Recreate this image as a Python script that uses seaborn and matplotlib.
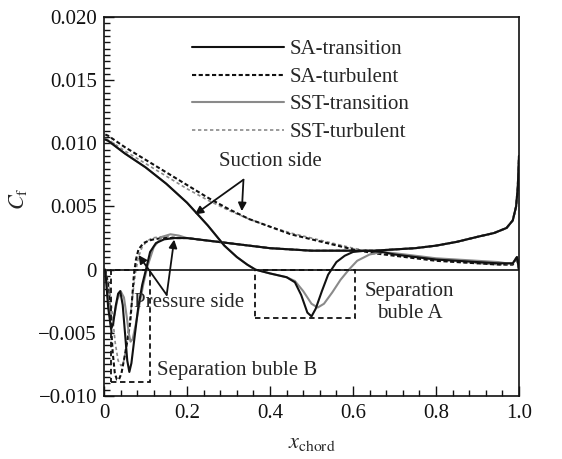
import numpy as np
import pandas as pd
import matplotlib
matplotlib.use("Agg")
import matplotlib.pyplot as plt
import seaborn as sns
from matplotlib.ticker import AutoMinorLocator, FuncFormatter
from matplotlib.patches import Rectangle

# ---------------- data ----------------
# Suction side
x_s_sa_tr = [0.003, 0.01, 0.05, 0.10, 0.15, 0.20, 0.25, 0.29, 0.32, 0.345, 0.365, 0.40, 0.44, 0.46,
             0.475, 0.49, 0.50, 0.51, 0.525, 0.54, 0.56, 0.58, 0.60, 0.63, 0.67, 0.70, 0.75, 0.80,
             0.85, 0.90, 0.95, 0.97, 0.985, 0.995, 1.0]
cf_s_sa_tr = [0.0103, 0.0102, 0.0092, 0.0081, 0.0068, 0.0053, 0.0035, 0.0019, 0.0010, 0.0004, 0.0,
              -0.0003, -0.0006, -0.0010, -0.0020, -0.0034, -0.0037, -0.0031, -0.0017, -0.0004, 0.0006,
              0.0011, 0.0014, 0.0015, 0.0014, 0.0012, 0.0010, 0.0008, 0.0007, 0.0006, 0.0005, 0.0005,
              0.0005, 0.0010, 0.0]

x_s_sst_tr = [0.003, 0.01, 0.05, 0.10, 0.15, 0.20, 0.25, 0.29, 0.32, 0.345, 0.365, 0.40, 0.44, 0.46,
              0.48, 0.50, 0.515, 0.53, 0.55, 0.57, 0.59, 0.61, 0.64, 0.67, 0.70, 0.75, 0.80, 0.85,
              0.90, 0.95, 0.97, 0.985, 0.995, 1.0]
cf_s_sst_tr = [0.0103, 0.0102, 0.0092, 0.0081, 0.0068, 0.0053, 0.0035, 0.0019, 0.0010, 0.0004, 0.0,
               -0.0003, -0.0006, -0.0009, -0.0017, -0.0027, -0.0030, -0.0027, -0.0018, -0.0008, 0.0,
               0.0007, 0.0012, 0.0014, 0.0013, 0.0011, 0.0009, 0.0008, 0.0007, 0.0006, 0.0005, 0.0005,
               0.0010, 0.0]

x_s_turb = [0.003, 0.01, 0.05, 0.10, 0.15, 0.20, 0.25, 0.30, 0.35, 0.40, 0.45, 0.50, 0.55, 0.60, 0.65,
            0.70, 0.75, 0.80, 0.85, 0.90, 0.95, 0.97, 0.985, 0.995, 1.0]
cf_s_sa_turb = [0.0107, 0.0106, 0.0097, 0.0087, 0.0077, 0.0067, 0.0057, 0.0048, 0.0040, 0.0034, 0.0028,
                0.0024, 0.0020, 0.0016, 0.0013, 0.0011, 0.0009, 0.0007, 0.0006, 0.0005, 0.0004, 0.0004,
                0.0004, 0.0010, 0.0]
cf_s_sst_turb = [0.0104, 0.0103, 0.0094, 0.0084, 0.0074, 0.0064, 0.0055, 0.0047, 0.0040, 0.0034, 0.0029,
                 0.0025, 0.0021, 0.0017, 0.0014, 0.0012, 0.0010, 0.0008, 0.0006, 0.0005, 0.0004, 0.0004,
                 0.0004, 0.0009, 0.0]

# Pressure side, aft part shared by all four models
x_p_aft = [0.20, 0.25, 0.30, 0.35, 0.40, 0.45, 0.50, 0.55, 0.60, 0.65, 0.70, 0.75, 0.80, 0.85, 0.90,
           0.94, 0.97, 0.985, 0.993, 0.997, 1.0]
cf_p_aft = [0.0025, 0.0023, 0.0021, 0.0019, 0.0017, 0.0016, 0.0015, 0.0015, 0.0015, 0.0015, 0.0016,
            0.0017, 0.0019, 0.0022, 0.0026, 0.0029, 0.0033, 0.0039, 0.0050, 0.0065, 0.0090]

x_p_sa_tr = [0.003, 0.01, 0.017, 0.022, 0.028, 0.034, 0.039, 0.045, 0.051, 0.056, 0.061, 0.066, 0.073,
             0.082, 0.092, 0.101, 0.111, 0.125, 0.145, 0.17]
cf_p_sa_tr = [0.0, -0.0030, -0.0047, -0.0043, -0.0029, -0.0019, -0.0017, -0.0028, -0.0052, -0.0072,
              -0.0081, -0.0074, -0.0055, -0.0031, -0.0012, 0.0, 0.0014, 0.0021, 0.0024, 0.0025]

x_p_sst_tr = [0.003, 0.01, 0.018, 0.025, 0.032, 0.04, 0.048, 0.055, 0.06, 0.064, 0.069, 0.076, 0.085,
              0.095, 0.105, 0.12, 0.14, 0.16, 0.18]
cf_p_sst_tr = [0.0, -0.0025, -0.0040, -0.0036, -0.0024, -0.0017, -0.0022, -0.0038, -0.0051, -0.0057,
               -0.0055, -0.0044, -0.0028, -0.0011, 0.0003, 0.0018, 0.0026, 0.0028, 0.0027]

x_p_sa_turb = [0.003, 0.01, 0.016, 0.021, 0.026, 0.031, 0.036, 0.042, 0.05, 0.057, 0.063, 0.068, 0.072,
               0.077, 0.083, 0.095, 0.108, 0.12, 0.14, 0.16]
cf_p_sa_turb = [0.0, -0.0012, -0.0040, -0.0066, -0.0082, -0.0087, -0.0087, -0.0082, -0.0068, -0.0055,
                -0.0042, -0.0022, -0.0004, 0.0008, 0.0016, 0.0021, 0.0023, 0.0024, 0.0025, 0.0025]

x_p_sst_turb = [0.003, 0.012, 0.02, 0.027, 0.034, 0.041, 0.048, 0.055, 0.062, 0.069, 0.076, 0.083,
                0.092, 0.102, 0.115, 0.135, 0.16]
cf_p_sst_turb = [0.0, -0.0012, -0.0035, -0.0058, -0.0072, -0.0076, -0.0072, -0.0058, -0.0040, -0.0020,
                 -0.0002, 0.0010, 0.0018, 0.0022, 0.0025, 0.0026, 0.0026]

labels = ["SA-transition", "SA-turbulent", "SST-transition", "SST-turbulent"]
y_ticks = [-0.010, -0.005, 0.0, 0.005, 0.010, 0.015, 0.020]
x_ticks = [0.0, 0.2, 0.4, 0.6, 0.8, 1.0]

# ---------------- style ----------------
sns.set_style("ticks")
plt.rcParams['font.family'] = ['Liberation Serif', 'DejaVu Serif']
plt.rcParams['mathtext.fontset'] = 'stix'
plt.rcParams['axes.unicode_minus'] = True

BLACK = "#111111"
GRAY = "#8a8a8a"
styles = {
    "SA-transition": dict(color=BLACK, lw=1.5, ls="-"),
    "SA-turbulent": dict(color=BLACK, lw=1.5, ls=(0, (2, 1.2))),
    "SST-transition": dict(color=GRAY, lw=1.5, ls="-"),
    "SST-turbulent": dict(color=GRAY, lw=1.2, ls=(0, (2, 1.6))),
}

fig = plt.figure(figsize=(5.62, 4.59), dpi=100)
ax = fig.add_axes([0.1851, 0.1373, 0.7384, 0.8257])

ax.axhline(0, color=BLACK, lw=1.2, zorder=1)

def draw(x, y, key, front=2):
    df = pd.DataFrame({"x": x, "cf": y})
    st = styles[key]
    sns.lineplot(data=df, x="x", y="cf", ax=ax, color=st["color"], linewidth=st["lw"],
                 linestyle=st["ls"], estimator=None, sort=False, zorder=front)
    return ax.lines[-1]

# pressure side
for key, xs, ys in [("SST-turbulent", x_p_sst_turb, cf_p_sst_turb),
                    ("SA-turbulent", x_p_sa_turb, cf_p_sa_turb),
                    ("SST-transition", x_p_sst_tr, cf_p_sst_tr),
                    ("SA-transition", x_p_sa_tr, cf_p_sa_tr)]:
    aft_x = [v for v in x_p_aft if v > xs[-1]]
    aft_y = [cf_p_aft[i] for i, v in enumerate(x_p_aft) if v > xs[-1]]
    draw(list(xs) + aft_x, list(ys) + aft_y, key)

# suction side
handles = {}
handles["SST-turbulent"] = draw(x_s_turb, cf_s_sst_turb, "SST-turbulent")
handles["SA-turbulent"] = draw(x_s_turb, cf_s_sa_turb, "SA-turbulent")
handles["SST-transition"] = draw(x_s_sst_tr, cf_s_sst_tr, "SST-transition")
handles["SA-transition"] = draw(x_s_sa_tr, cf_s_sa_tr, "SA-transition")

# dashed boxes marking separation bubbles
ax.add_patch(Rectangle((0.363, -0.0038), 0.242, 0.0038, fill=False, ec=BLACK, lw=1.3,
                       ls=(0, (3, 2)), zorder=3))
ax.add_patch(Rectangle((0.018, -0.0089), 0.092, 0.0089, fill=False, ec=BLACK, lw=1.3,
                       ls=(0, (3, 2)), zorder=3))

FS = 15
ax.text(0.737, -0.0026, "Separation\nbuble A", ha="center", va="center", fontsize=FS, linespacing=1.25)
ax.text(0.128, -0.0080, "Separation buble B", ha="left", va="center", fontsize=FS)

# Suction side annotation
ax.text(0.40, 0.0086, "Suction side", ha="center", va="center", fontsize=FS)
arr = dict(arrowstyle="-|>", color=BLACK, lw=1.3, mutation_scale=12, shrinkA=0, shrinkB=0)
ax.annotate("", xy=(0.219, 0.00437), xytext=(0.336, 0.00712), arrowprops=arr)
ax.annotate("", xy=(0.332, 0.00463), xytext=(0.336, 0.00712), arrowprops=arr)

# Pressure side annotation
ax.text(0.205, -0.0026, "Pressure side", ha="center", va="center", fontsize=FS)
ax.annotate("", xy=(0.083, 0.00115), xytext=(0.151, -0.0020), arrowprops=arr)
ax.annotate("", xy=(0.169, 0.00238), xytext=(0.151, -0.0020), arrowprops=arr)

# axes
ax.set_xlim(0, 1.0)
ax.set_ylim(-0.010, 0.020)
ax.set_xticks(x_ticks)
ax.set_yticks(y_ticks)
ax.xaxis.set_minor_locator(AutoMinorLocator(5))
ax.yaxis.set_minor_locator(AutoMinorLocator(10))
ax.xaxis.set_major_formatter(FuncFormatter(lambda v, p: "0" if abs(v) < 1e-9 else f"{v:.1f}"))
ax.yaxis.set_major_formatter(FuncFormatter(
    lambda v, p: "0" if abs(v) < 1e-9 else f"{v:.3f}".replace("-", "\u2212")))
ax.tick_params(which="both", direction="in", top=False, right=False, width=1.0, colors=BLACK,
               labelsize=FS)
ax.tick_params(which="major", length=7)
ax.tick_params(which="minor", length=4)
ax.tick_params(axis="y", pad=5)
ax.tick_params(axis="x", pad=6)
for s in ax.spines.values():
    s.set_linewidth(1.2)
    s.set_color(BLACK)

ax.set_xlabel(r"$x_\mathrm{chord}$", fontsize=FS + 1)
ax.set_ylabel(r"$C_\mathrm{f}$", fontsize=FS + 1)
ax.xaxis.set_label_coords(0.5, -0.1)
ax.yaxis.set_label_coords(-0.18, 0.52)

leg = ax.legend([handles[k] for k in labels], labels, loc="upper left", bbox_to_anchor=(0.212, 0.94),
                frameon=False, fontsize=FS, handlelength=4.4, handletextpad=0.3, labelspacing=0.38,
                borderpad=0, borderaxespad=0)

fig.savefig("out.png", dpi=100)
